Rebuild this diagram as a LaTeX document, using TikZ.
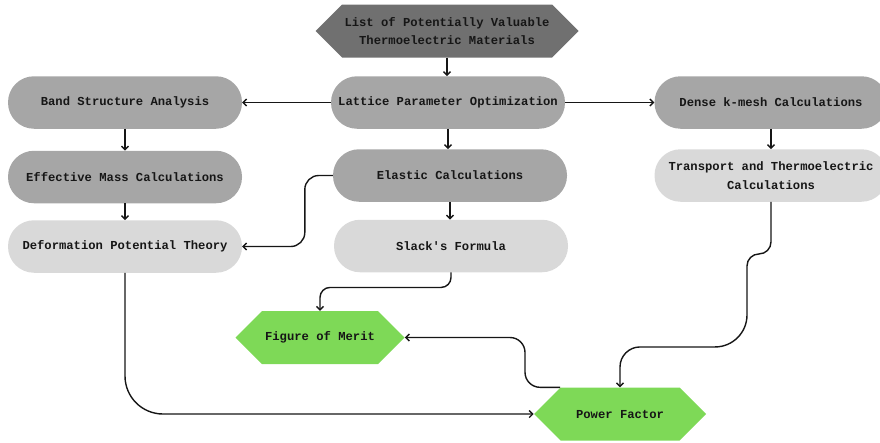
\documentclass[tikz,border=0pt]{standalone}
\usepackage{fontspec}
\setmonofont{Liberation Mono}
\usetikzlibrary{arrows.meta,shapes.symbols,calc}
\definecolor{darkfill}{HTML}{707070}
\definecolor{midfill}{HTML}{A6A6A6}
\definecolor{lightfill}{HTML}{D9D9D9}
\definecolor{greenfill}{HTML}{7ED957}
\definecolor{inkcol}{HTML}{161616}
\begin{document}
\begin{tikzpicture}[x=1pt,y=-1pt,
  base/.style={font=\ttfamily\bfseries\fontsize{12.2}{18.5}\selectfont, text=inkcol, align=center, inner sep=0pt},
  pill/.style={base, rectangle, rounded corners=26pt, minimum width=234pt, minimum height=52.5pt},
  hexa/.style={base, signal, signal to=west and east, signal pointer angle=90, minimum height=53pt},
  link/.style={draw=inkcol, line width=1.4pt, -{Straight Barb[length=3.5pt,width=7pt]}},
]
\useasboundingbox (0,0) rectangle (880,442);

% source
\node[hexa, fill=darkfill, minimum width=263pt] (src) at (447,31)
  {List of Potentially Valuable\\Thermoelectric Materials};

% first row
\node[pill, fill=midfill] (latt) at (448,102.5) {Lattice Parameter Optimization};
\node[pill, fill=midfill] (band) at (125,102.5) {Band Structure Analysis};
\node[pill, fill=midfill, minimum width=233pt] (dense) at (771,102.5) {Dense k-mesh Calculations};

% second row
\node[pill, fill=midfill] (emass) at (125,177) {Effective Mass Calculations};
\node[pill, fill=midfill] (elast) at (450,175.5) {Elastic Calculations};
\node[pill, fill=lightfill, minimum width=233pt] (trans) at (771,175.5) {Transport and Thermoelectric\\Calculations};

% third row
\node[pill, fill=lightfill] (deform) at (125,246.5) {Deformation Potential Theory};
\node[pill, fill=lightfill] (slack) at (451,246) {Slack's Formula};

% results
\node[hexa, fill=greenfill, minimum width=169pt] (fom) at (320,337.5) {Figure of Merit};
\node[hexa, fill=greenfill, minimum width=172pt] (pf) at (620,414) {Power Factor};

% straight connectors
\draw[link] (src.south) -- (src.south |- latt.north);
\draw[link] (latt.west) -- (band.east);
\draw[link] (latt.east) -- (dense.west);
\draw[link] (latt.south) -- (latt.south |- elast.north);
\draw[link] (band.south) -- (band.south |- emass.north);
\draw[link] (emass.south) -- (emass.south |- deform.north);
\draw[link] (elast.south) -- (elast.south |- slack.north);
\draw[link] (dense.south) -- (dense.south |- trans.north);

% routed connectors
\draw[link, rounded corners=14pt] (elast.west) -- ++(-28,0) |- (deform.east);
\draw[link, rounded corners=10pt] (slack.south) -- ++(0,15) -| (fom.north);
\draw[link, rounded corners=38pt] (deform.south) |- (pf.west);
\draw[link, rounded corners=15pt] ([xshift=-60pt]pf.north) -- ++(-35,0) |- (fom.east);
\draw[link] (trans.south) [rounded corners=12pt] -- ++(0,52) -- ++(-24,0)
  [rounded corners=32pt] -- ++(0,93) [rounded corners=20pt] -| (pf.north);
\end{tikzpicture}
\end{document}
